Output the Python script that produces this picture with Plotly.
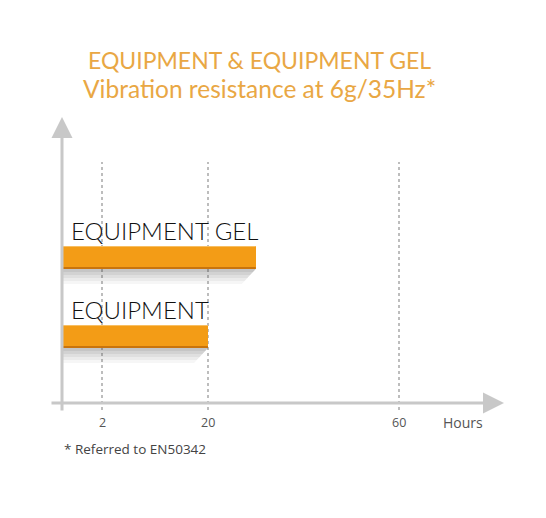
import numpy as np
import plotly.graph_objects as go

# ---- data ----
categories = ["EQUIPMENT", "EQUIPMENT GEL"]
hours = [20, 30]
tick_values = [2, 20, 60]
tick_labels = ["2", "20", "60"]
axis_unit = "Hours"
title_lines = ["EQUIPMENT & EQUIPMENT GEL", "Vibration resistance at 6g/35Hz*"]
footnote = "* Referred to EN50342"

# ---- non-linear hour scale (piecewise, as drawn in the original) ----
scale_hours = [0, 2, 20, 60]
scale_pos = [0, 40, 146, 337]
def hpos(h):
    return float(np.interp(h, scale_hours, scale_pos))

W, H = 546, 518
OFF = 8                      # default page body margin
REF_L, REF_BOT = 62, 403     # plot origin in page pixels
L = REF_L - OFF
T = 115 - OFF
PW = 443
PH = REF_BOT - 115
R = W - L - PW
B = H - T - PH
CAT_PX = 79.0
ymin = -66.5 / CAT_PX
ymax = ymin + PH / CAT_PX
BAR_W = 23 / CAT_PX

ORANGE = "#F39C16"
EDGE = "#C9740C"
HILITE = "#F7BE62"
GRID = "#BDBDBD"
AXIS = "#C8C8C8"
TITLE_C = "#E9A744"

xs = [hpos(h) for h in hours]
ys = list(range(len(categories)))

fig = go.Figure()
fig.add_trace(go.Bar(
    x=xs, y=ys, orientation="h", width=BAR_W, base=0,
    marker=dict(color=ORANGE, line=dict(width=0)),
    hoverinfo="skip", showlegend=False,
))

shapes = []
def py(dpx):
    return dpx / CAT_PX

# soft shadows
for x1, yc in zip(xs, ys):
    top = yc + BAR_W / 2
    bot = yc - BAR_W / 2
    for k, a in [(1.0, 0.05), (0.8, 0.06), (0.6, 0.07), (0.4, 0.08), (0.2, 0.09)]:
        dx = 15 * k
        dy = 15 * k
        path = (f"M 0,{top} L {-dx},{top - py(4*k)} L {-dx},{bot - py(dy)} "
                f"L {x1 - 14*k},{bot - py(dy)} L {x1},{bot} Z")
        shapes.append(dict(type="path", path=path, xref="x", yref="y",
                           fillcolor=f"rgba(70,70,70,{a})", line=dict(width=0),
                           layer="below"))
    # darker bottom edge and lighter top edge of the bar
    shapes.append(dict(type="line", xref="x", yref="y", x0=0, x1=x1,
                       y0=bot + py(1), y1=bot + py(1),
                       line=dict(color=EDGE, width=2), layer="above"))
    shapes.append(dict(type="line", xref="x", yref="y", x0=0, x1=x1,
                       y0=top - py(0.5), y1=top - py(0.5),
                       line=dict(color=HILITE, width=1), layer="above"))

# dotted grid lines
for tv in tick_values:
    p = hpos(tv)
    shapes.append(dict(type="line", xref="x", yref="paper", x0=p, x1=p,
                       y0=-7 / PH, y1=(REF_BOT - 162) / PH,
                       line=dict(color=GRID, width=2, dash="dot"), layer="below"))

def pxx(px):
    return (px - REF_L) / PW
def pyy(px):
    return (REF_BOT - px) / PH

annotations = []
# axes with arrows
annotations.append(dict(x=0, y=pyy(117), xref="paper", yref="paper",
                        ax=0, ay=295, axref="pixel", ayref="pixel",
                        showarrow=True, arrowhead=2, arrowsize=1.4, arrowwidth=3,
                        arrowcolor=AXIS, text=""))
annotations.append(dict(x=pxx(504), y=0, xref="paper", yref="paper",
                        ax=-454, ay=0, axref="pixel", ayref="pixel",
                        showarrow=True, arrowhead=2, arrowsize=1.4, arrowwidth=3,
                        arrowcolor=AXIS, text=""))

# category labels above bars
for cat, yc in zip(categories, ys):
    annotations.append(dict(x=7, y=yc + py(27), xref="x", yref="y", text=cat,
                            showarrow=False, xanchor="left", yanchor="middle",
                            font=dict(family="Lato", size=24, color="#111111", weight=300)))

# tick labels
for tv, tl in zip(tick_values, tick_labels):
    annotations.append(dict(x=hpos(tv), y=pyy(422), xref="x", yref="paper", text=tl,
                            showarrow=False, xanchor="center", yanchor="middle",
                            font=dict(family="Open Sans", size=12.5, color="#555555")))
annotations.append(dict(x=pxx(463), y=pyy(422), xref="paper", yref="paper",
                        text=axis_unit, showarrow=False, xanchor="center", yanchor="middle",
                        font=dict(family="Open Sans", size=14, color="#555555")))
annotations.append(dict(x=0, y=pyy(449), xref="paper", yref="paper",
                        text=footnote, showarrow=False, xanchor="left", yanchor="middle",
                        font=dict(family="Open Sans", size=13.5, color="#444444")))

# title
title_sizes = [23, 24.5]
for i, line in enumerate(title_lines):
    annotations.append(dict(x=pxx(259), y=pyy(60 + 28 * i),
                            xref="paper", yref="paper", text=line, showarrow=False,
                            xanchor="center", yanchor="middle",
                            font=dict(family="Lato", size=title_sizes[i], color=TITLE_C)))

fig.update_layout(
    width=W, height=H,
    margin=dict(l=L, r=R, t=T, b=B),
    paper_bgcolor="white", plot_bgcolor="white",
    xaxis=dict(range=[0, PW], visible=False, fixedrange=True),
    yaxis=dict(range=[ymin, ymax], visible=False, fixedrange=True),
    shapes=shapes, annotations=annotations, bargap=0,
)
fig.write_html("out.html")
